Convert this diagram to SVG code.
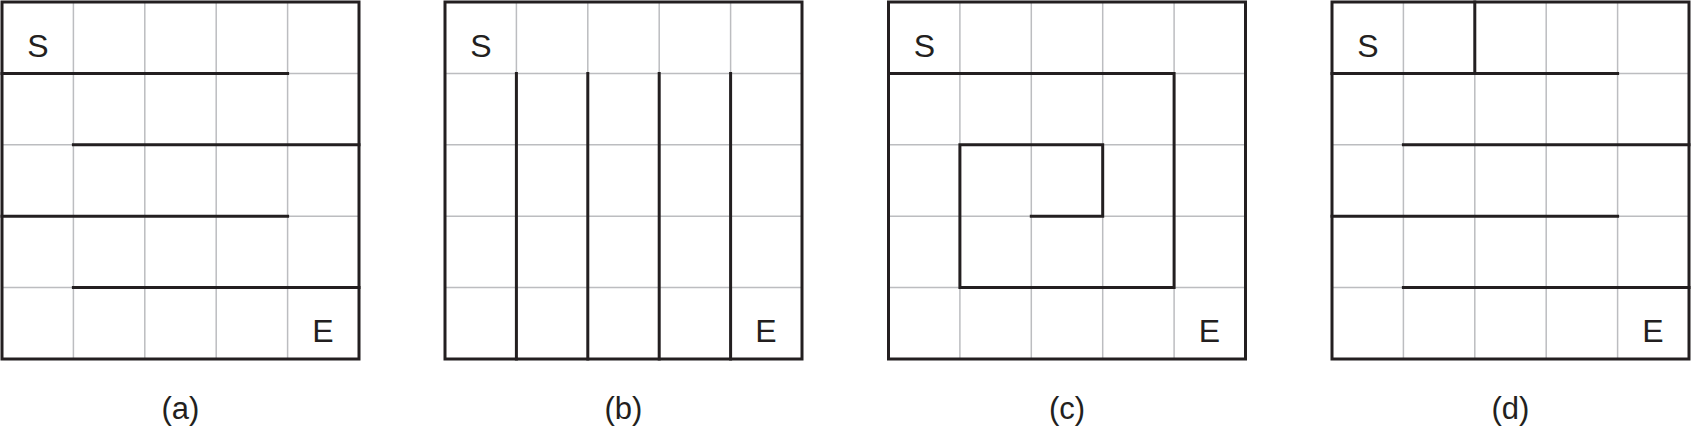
<svg xmlns="http://www.w3.org/2000/svg" width="1691" height="428" viewBox="0 0 1691 428">
<style>
.grid{stroke:#bcbdc0;stroke-width:1.5;fill:none}
.wall{stroke:#231f20;stroke-width:3;fill:none;stroke-linecap:square;stroke-linejoin:miter}
.lbl{font-family:"Liberation Sans",Arial,sans-serif;font-size:32px;fill:#231f20;text-anchor:middle}
.cap{font-family:"Liberation Sans",Arial,sans-serif;font-size:31px;fill:#231f20;text-anchor:middle}
</style>
<defs>
<g id="grid">
<path class="grid" d="M71.4 0V357M142.8 0V357M214.2 0V357M285.6 0V357M0 71.4H357M0 142.8H357M0 214.2H357M0 285.6H357"/>
</g>
<g id="labels">
<text class="lbl" x="36" y="55">S</text>
<text class="lbl" x="321" y="340">E</text>
</g>
</defs>
<g id="maze-a" transform="translate(2,2)">
<use href="#grid"/>
<g class="connectors">
<path class="wall" d="M0 71.4H285.6M71.4 142.8H357M0 214.2H285.6M71.4 285.6H357"/>
</g>
<rect class="wall" x="0" y="0" width="357" height="357"/>
<use href="#labels"/>
<text class="cap" x="178.5" y="417">(a)</text>
</g>
<g id="maze-b" transform="translate(445,2)">
<use href="#grid"/>
<g class="connectors">
<path class="wall" d="M71.4 71.4V357M142.8 71.4V357M214.2 71.4V357M285.6 71.4V357"/>
</g>
<rect class="wall" x="0" y="0" width="357" height="357"/>
<use href="#labels"/>
<text class="cap" x="178.5" y="417">(b)</text>
</g>
<g id="maze-c" transform="translate(888.5,2)">
<use href="#grid"/>
<g class="connectors">
<path class="wall" d="M0 71.4H285.6V285.6H71.4V142.8H214.2V214.2H142.8"/>
</g>
<rect class="wall" x="0" y="0" width="357" height="357"/>
<use href="#labels"/>
<text class="cap" x="178.5" y="417">(c)</text>
</g>
<g id="maze-d" transform="translate(1332,2)">
<use href="#grid"/>
<g class="connectors">
<path class="wall" d="M142.8 0V71.4M0 71.4H285.6M71.4 142.8H357M0 214.2H285.6M71.4 285.6H357"/>
</g>
<rect class="wall" x="0" y="0" width="357" height="357"/>
<use href="#labels"/>
<text class="cap" x="178.5" y="417">(d)</text>
</g>
</svg>
